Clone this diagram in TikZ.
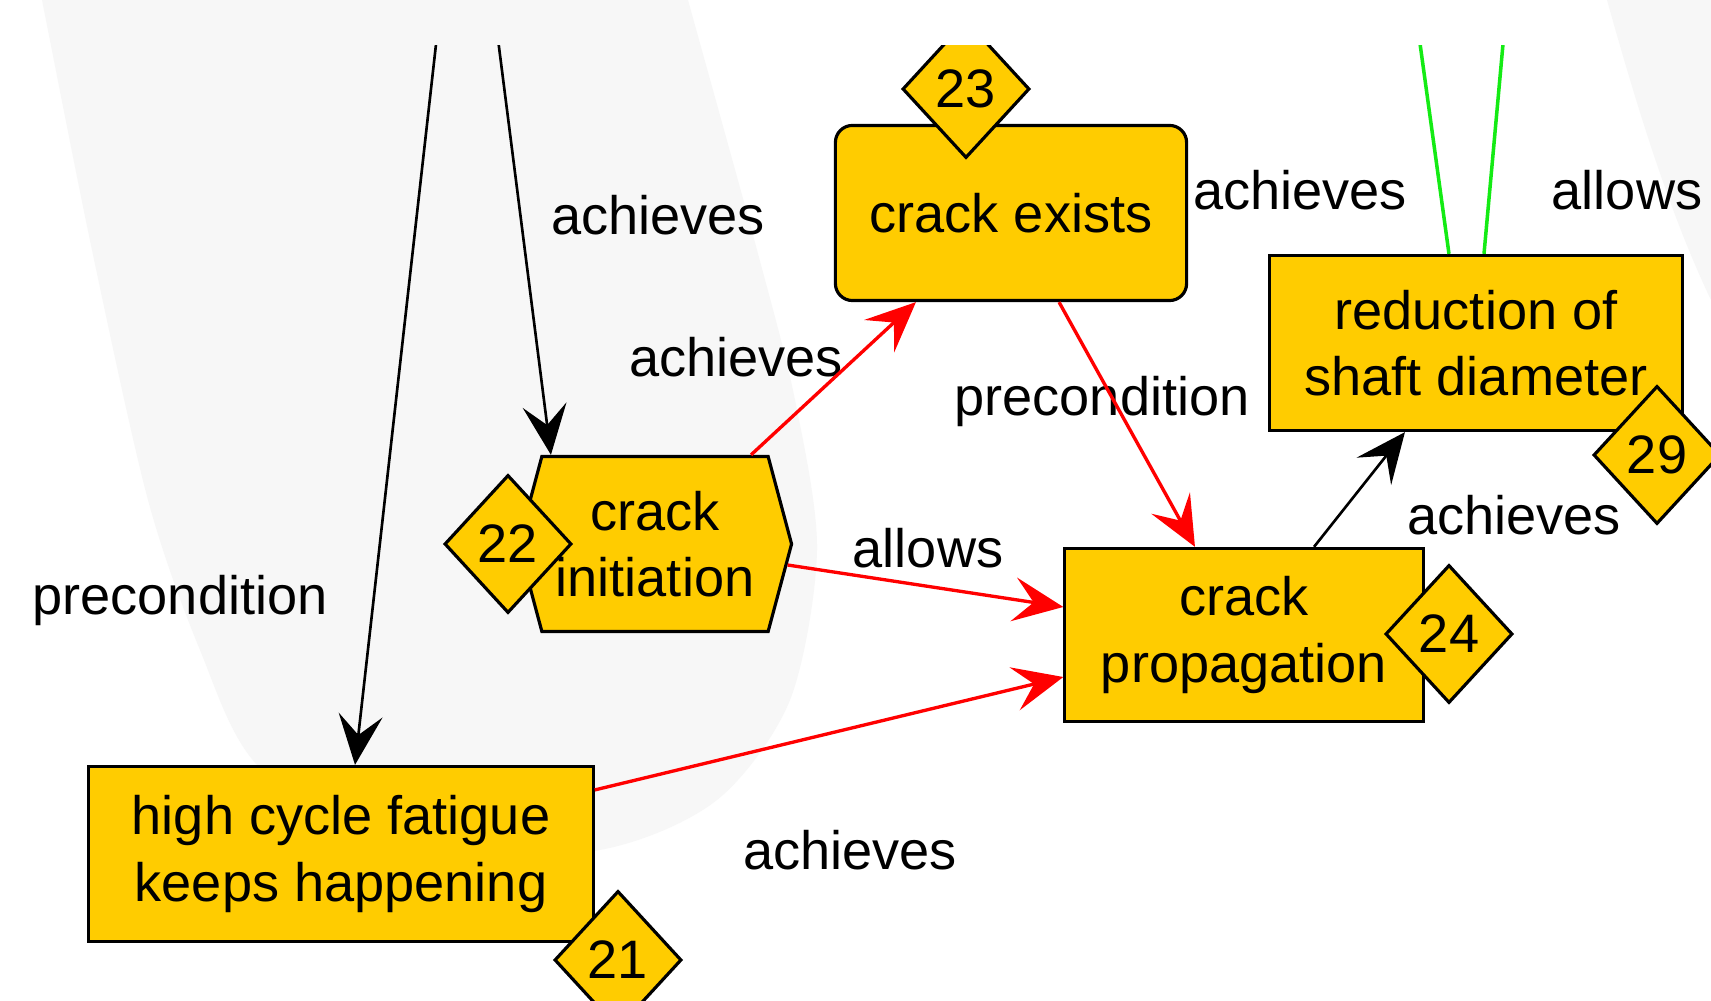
\documentclass[tikz,border=0pt]{standalone}
\usepackage{fontspec}
\setmainfont{Liberation Sans}
\usetikzlibrary{arrows.meta, shapes.geometric, shapes.symbols}
\definecolor{Gold}{RGB}{255,204,0}
\definecolor{FaintGray}{RGB}{247,247,247}
\definecolor{LinkGreen}{RGB}{20,235,20}

\begin{document}
\begin{tikzpicture}[
  x=0.01cm, y=-0.01cm,
  font=\fontsize{15.4pt}{18.8pt}\selectfont,
  box/.style={draw, line width=0.9pt, fill=Gold, align=center, inner sep=0pt, minimum height=1.75cm},
  roundbox/.style={box, rounded corners=0.17cm},
  hexbox/.style={box, signal, signal to=east and west, signal pointer angle=150},
  tag/.style={draw, diamond, line width=0.9pt, fill=Gold, inner sep=0pt, minimum width=1.27cm, minimum height=1.38cm},
  lbl/.style={anchor=base, inner sep=0pt},
  arr/.style={-{Stealth[length=5mm, width=4.4mm, inset=2mm]}, line width=0.75pt},
  redarr/.style={arr, red, line width=0.95pt},
  link/.style={draw=LinkGreen, line width=1pt}
]
  \useasboundingbox (0,0) rectangle (1711,1001);
  \fill[white] (0,0) rectangle (1711,1001);

  % background bands
  \fill[FaintGray] plot[smooth cycle] coordinates {(30,-60) (42,0) (92,250) (148,500) (200,650) (258,766) (400,860) (600,850) (717,800) (790,700) (817,550) (795,400) (757,250) (688,0) (672,-60)};
  \fill[FaintGray] (1607,0) .. controls (1635,100) and (1668,210) .. (1711,300) -- (1711,0) -- cycle;

  \begin{scope}
  \clip (0,46) rectangle (1711,1001);

  \coordinate (srcA) at (441,0);
  \coordinate (srcB) at (493,0);
  \coordinate (sinkA) at (1414,0);
  \coordinate (sinkB) at (1507,0);

  \node[box, minimum width=5.04cm] (fatigue) at (341,854) {high cycle fatigue\\keeps happening};
  \node[hexbox, minimum width=2.73cm] (init) at (655,544) {crack\\initiation};
  \node[roundbox, minimum width=3.51cm] (exists) at (1011,213) {crack exists};
  \node[box, minimum width=3.58cm, minimum height=1.73cm] (prop) at (1244,635) {crack\\propagation};
  \node[box, minimum width=4.13cm] (shaft) at (1476,343) {reduction of\\shaft diameter};

  \node[tag] (t21) at (618,960) {21};
  \node[tag] (t22) at (508,544) {22};
  \node[tag] (t23) at (966,89) {23};
  \node[tag] (t24) at (1449,634) {24};
  \node[tag] (t29) at (1657,455) {29};

  \node[lbl] (achTop) at (658,235) {achieves};
  \node[lbl] (achInit) at (736,377) {achieves};
  \node[lbl] (achExists) at (1300,210) {achieves};
  \node[lbl] (allowTop) at (1627,210) {allows};
  \node[lbl] (preMid) at (1102,416) {precondition};
  \node[lbl] (achProp) at (1514,535) {achieves};
  \node[lbl] (allowMid) at (928,568) {allows};
  \node[lbl] (preLeft) at (180,615) {precondition};
  \node[lbl] (achLow) at (850,870) {achieves};

  \draw[arr] (srcA) -- ([xshift=0.14cm]fatigue.north);
  \draw[arr] (srcB) -- ([xshift=-1.04cm]init.north);
  \draw[redarr] ([xshift=0.96cm]init.north) -- ([xshift=-0.95cm]exists.south);
  \draw[redarr] ([xshift=0.48cm]exists.south) -- ([xshift=-0.49cm]prop.north);
  \draw[redarr] (init.-9) -- ([yshift=0.28cm]prop.west);
  \draw[redarr] ([yshift=0.64cm]fatigue.east) -- ([yshift=-0.42cm]prop.west);
  \draw[arr] ([xshift=0.7cm]prop.north) -- ([xshift=-0.71cm]shaft.south);
  \draw[link] ([xshift=-0.27cm]shaft.north) -- (sinkA);
  \draw[link] ([xshift=0.08cm]shaft.north) -- (sinkB);
  \end{scope}
\end{tikzpicture}
\end{document}
